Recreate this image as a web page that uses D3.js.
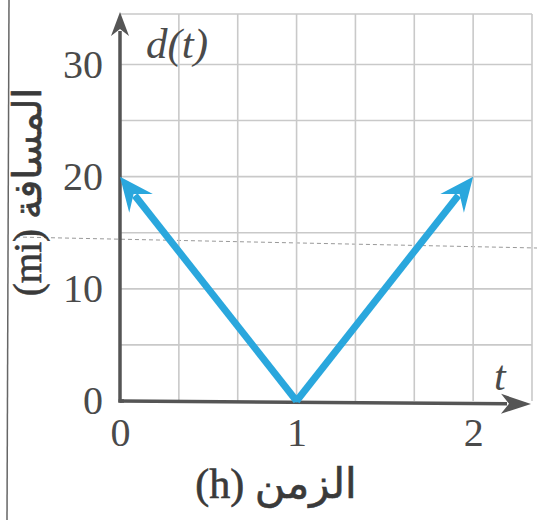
<!DOCTYPE html>
<html>
<head>
<meta charset="utf-8">
<script src="https://cdn.jsdelivr.net/npm/d3@7"></script>
<style>
  body { margin: 0; background: #fff; }
  svg { display: block; }
</style>
</head>
<body>
<svg></svg>
<script>
// chart data
const tTicks = [0, 1, 2]
const dTicks = [0, 10, 20, 30]
const gridT = [1 / 3, 2 / 3, 1, 4 / 3, 5 / 3, 2, 7 / 3]
const gridD = [5, 10, 15, 20, 25, 30, 34.5]
const leftBranch = [{ t: 1, d: 0 }, { t: 0, d: 20 }]
const rightBranch = [{ t: 1, d: 0 }, { t: 2, d: 20 }]

const w = 537
const h = 520
const serif = '"Liberation Serif", "Times New Roman", serif'
const arabic = '"Liberation Serif", "DejaVu Sans", sans-serif'
const axisColor = '#555'
const blue = '#2aa7dd'

const svg = d3.select('svg')
  .attr('width', w)
  .attr('height', h)

const x = d3.scaleLinear().domain([0, 7 / 3]).range([120, 532])
const y = d3.scaleLinear().domain([0, 34.5]).range([401, 14])

// page edge and fold line from the scan
svg.append('line')
  .attr('x1', 9).attr('x2', 7).attr('y1', 0).attr('y2', h)
  .attr('stroke', '#666').attr('stroke-width', 1.5)
svg.append('line')
  .attr('x1', 16).attr('x2', w).attr('y1', 237).attr('y2', 248)
  .attr('stroke', '#999').attr('stroke-width', 1).attr('stroke-dasharray', '4,3')

// grid
svg.append('g')
  .selectAll('line')
  .data(gridT)
  .join('line')
  .attr('x1', d => x(d)).attr('x2', d => x(d))
  .attr('y1', y(0)).attr('y2', y(34.5))
  .attr('stroke', '#c9c9c9').attr('stroke-width', 1.6)

svg.append('g')
  .selectAll('line')
  .data(gridD)
  .join('line')
  .attr('x1', x(0)).attr('x2', x(7 / 3))
  .attr('y1', d => y(d)).attr('y2', d => y(d))
  .attr('stroke', '#c9c9c9').attr('stroke-width', 1.6)

// arrowhead shape, tip at origin pointing right
const arrowPath = (len, half, notch) => `M0,0 L${-len},${-half} L${-notch},0 L${-len},${half} Z`

const drawArrow = (x0, y0, x1, y1, color, width, len, half, notch) => {
  const ang = Math.atan2(y1 - y0, x1 - x0)
  const back = notch + 2
  svg.append('line')
    .attr('x1', x0).attr('y1', y0)
    .attr('x2', x1 - Math.cos(ang) * back)
    .attr('y2', y1 - Math.sin(ang) * back)
    .attr('stroke', color)
    .attr('stroke-width', width)
  svg.append('path')
    .attr('d', arrowPath(len, half, notch))
    .attr('transform', `translate(${x1},${y1}) rotate(${ang * 180 / Math.PI})`)
    .attr('fill', color)
}

// axes lines with arrows
svg.append('line')
  .attr('x1', x(0) - 1.5).attr('x2', x(0) + 4)
  .attr('y1', y(0)).attr('y2', y(0))
  .attr('stroke', axisColor).attr('stroke-width', 3.5)
drawArrow(x(0), y(0) + 1.5, x(0), 12, axisColor, 3.5, 24, 9, 17)
drawArrow(x(0), y(0), 531, y(0) + 3, axisColor, 3.5, 30, 10, 22)

// tick labels through axes
const xAxis = d3.axisBottom(x).tickValues(tTicks).tickSize(0).tickPadding(14).tickFormat(d3.format('d'))
const gx = svg.append('g')
  .attr('transform', `translate(0, ${y(0) + 3})`)
  .call(xAxis)
gx.select('.domain').remove()
gx.selectAll('text')
  .attr('font-family', serif).attr('font-size', 40).attr('fill', '#4a4a4a')

const yAxis = d3.axisLeft(y).tickValues(dTicks).tickSize(0).tickPadding(17).tickFormat(d3.format('d'))
const gy = svg.append('g')
  .attr('transform', `translate(${x(0)}, 0)`)
  .call(yAxis)
gy.select('.domain').remove()
gy.selectAll('text')
  .attr('font-family', serif).attr('font-size', 40).attr('fill', '#4a4a4a')

// function branches
const branches = [leftBranch, rightBranch]
branches.forEach(b => {
  drawArrow(x(b[0].t), y(b[0].d), x(b[1].t), y(b[1].d), blue, 7, 34, 15, 22)
})
// vertex join
svg.append('circle')
  .attr('cx', x(1)).attr('cy', y(0) - 2).attr('r', 3.5).attr('fill', blue)

// labels
svg.append('text')
  .attr('x', 146).attr('y', 58)
  .attr('font-family', serif).attr('font-style', 'italic')
  .attr('font-size', 43).attr('fill', '#4a4a4a')
  .text('d(t)')

svg.append('text')
  .attr('x', 494).attr('y', 390)
  .attr('font-family', serif).attr('font-style', 'italic')
  .attr('font-size', 42).attr('fill', '#4a4a4a')
  .text('t')

svg.append('text')
  .attr('x', 276).attr('y', 498)
  .attr('text-anchor', 'middle')
  .attr('direction', 'rtl')
  .attr('font-family', arabic)
  .attr('font-size', 42).attr('fill', '#3a3a3a')
  .attr('stroke', '#3a3a3a').attr('stroke-width', 0.6)
  .text('الزمن (h)')

svg.append('text')
  .attr('transform', 'translate(41, 192) rotate(-90)')
  .attr('text-anchor', 'middle')
  .attr('direction', 'rtl')
  .attr('font-family', arabic)
  .attr('font-size', 39).attr('fill', '#3a3a3a')
  .attr('stroke', '#3a3a3a').attr('stroke-width', 0.6)
  .text('المسافة (mi)')
</script>
</body>
</html>
